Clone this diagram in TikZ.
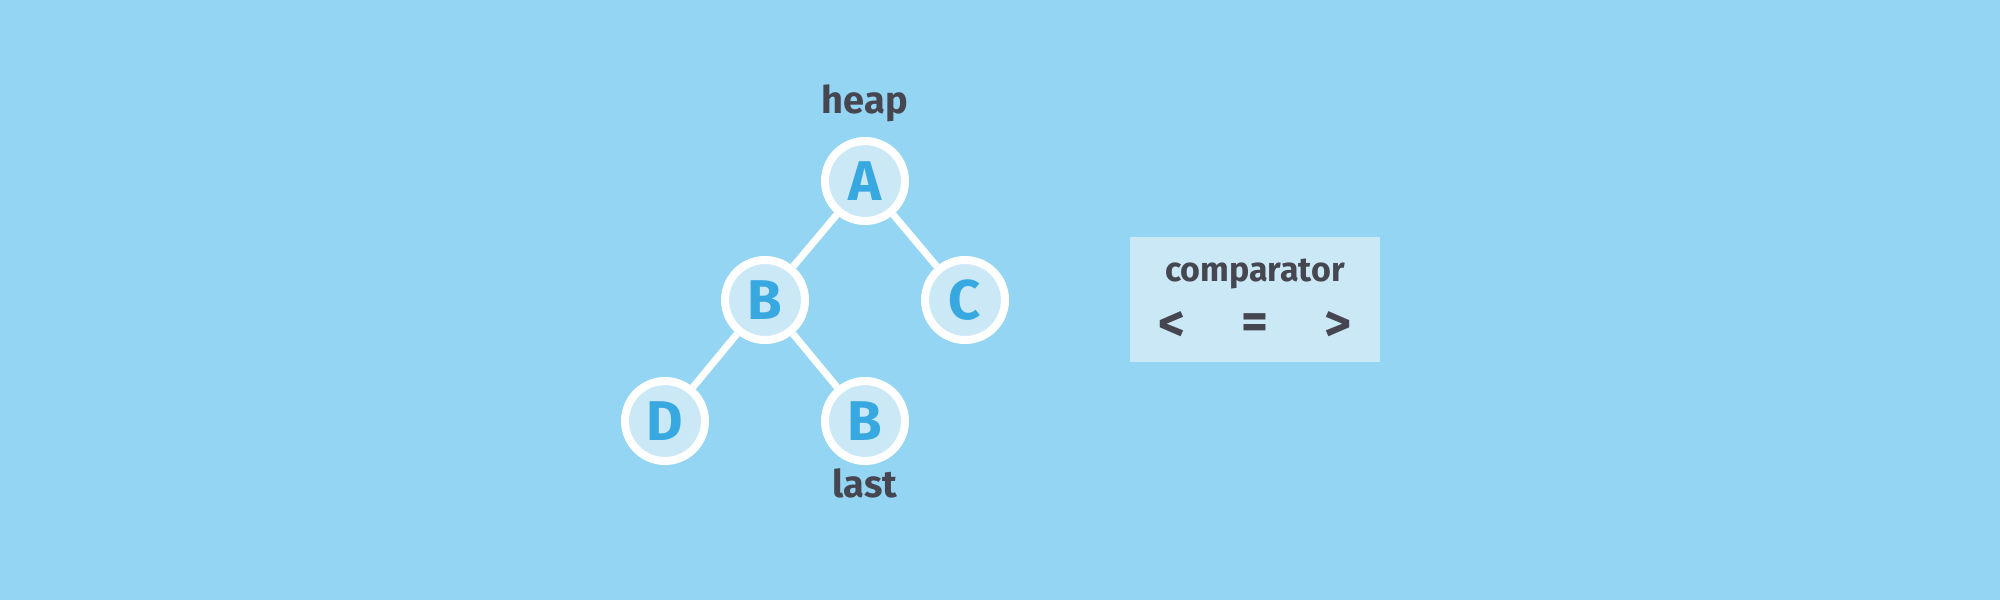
\documentclass[tikz,border=0pt]{standalone}
\usepackage{fontspec}
\setmainfont{Fira Sans}
\definecolor{bg}{HTML}{94D5F3}
\definecolor{nodefill}{HTML}{CBE8F6}
\definecolor{letter}{HTML}{38A9E0}
\definecolor{ink}{HTML}{464650}
\begin{document}
\begin{tikzpicture}[x=1pt,y=-1pt,
  heapnode/.style={circle,draw=white,line width=8pt,fill=nodefill,minimum size=80pt,inner sep=0pt,
    text=letter,font=\fontsize{56}{56}\selectfont\bfseries},
  edge/.style={draw=white,line width=7pt},
  lbl/.style={text=ink,font=\fontsize{38}{38}\selectfont\bfseries},
  cmp/.style={text=ink,font=\fontsize{34}{34}\selectfont\bfseries},
  sym/.style={text=ink,font=\fontsize{52}{52}\selectfont\bfseries}]
\fill[bg] (0,0) rectangle (2000,600);
\useasboundingbox (0,0) rectangle (2000,600);
\node[heapnode] (a) at (865,181) {A};
\node[heapnode] (b) at (765,300) {B};
\node[heapnode] (c) at (965,300) {C};
\node[heapnode] (d) at (665,421) {D};
\node[heapnode] (b2) at (865,421) {B};
\draw[edge] (a) -- (b);
\draw[edge] (a) -- (c);
\draw[edge] (b) -- (d);
\draw[edge] (b) -- (b2);
\node[lbl] (heap) at (865,103) {heap};
\node[lbl] (last) at (865,483) {last};
\node[fill=nodefill,minimum width=250pt,minimum height=125pt,inner sep=0pt] (box) at (1255,299.5) {};
\node[cmp] (cmpt) at (1255,274) {comparator};
\node[sym] (lt) at (1172,327) {<};
\node[sym] (eq) at (1255,327) {=};
\node[sym] (gt) at (1338,327) {>};
\end{tikzpicture}
\end{document}
